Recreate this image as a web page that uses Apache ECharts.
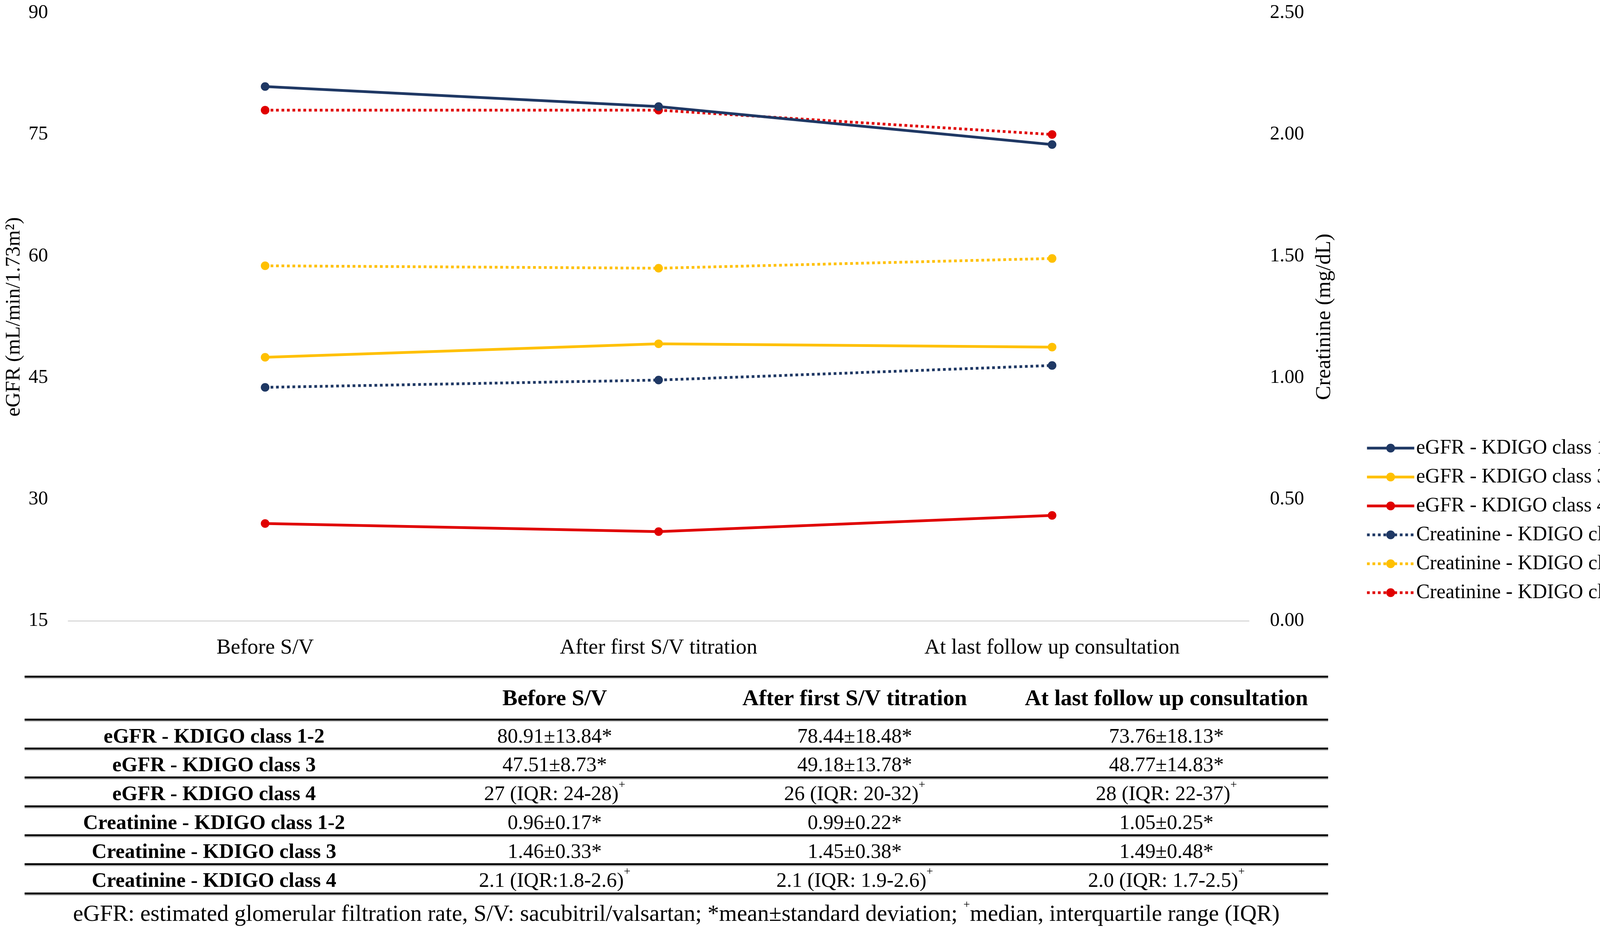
<!DOCTYPE html>
<html>
<head>
<meta charset="utf-8">
<script src="https://cdn.jsdelivr.net/npm/echarts@6/dist/echarts.min.js"></script>
<style>
html,body{margin:0;padding:0;background:#fff;}
#chart{width:4288px;height:2383px;}
</style>
</head>
<body>
<div id="chart"></div>
<script>
// ---- data ----
const categories = ['Before S/V', 'After first S/V titration', 'At last follow up consultation'];
const egfrClass12 = [80.91, 78.44, 73.76];
const egfrClass3 = [47.51, 49.18, 48.77];
const egfrClass4 = [27, 26, 28];
const creatClass12 = [0.96, 0.99, 1.05];
const creatClass3 = [1.46, 1.45, 1.49];
const creatClass4 = [2.1, 2.1, 2.0];
const seriesNames = ['eGFR - KDIGO class 1-2', 'eGFR - KDIGO class 3', 'eGFR - KDIGO class 4',
  'Creatinine - KDIGO class 1-2', 'Creatinine - KDIGO class 3', 'Creatinine - KDIGO class 4'];
const leftTicks = {min: 15, max: 90, interval: 15};
const rightTicks = {min: 0, max: 2.5, interval: 0.5};
const tableCells = [
  ['80.91±13.84*', '78.44±18.48*', '73.76±18.13*'],
  ['47.51±8.73*', '49.18±13.78*', '48.77±14.83*'],
  ['27 (IQR: 24-28)', '26 (IQR: 20-32)', '28 (IQR: 22-37)'],
  ['0.96±0.17*', '0.99±0.22*', '1.05±0.25*'],
  ['1.46±0.33*', '1.45±0.38*', '1.49±0.48*'],
  ['2.1 (IQR:1.8-2.6)', '2.1 (IQR: 1.9-2.6)', '2.0 (IQR: 1.7-2.5)']
];
const medianRows = [2, 5];
const footnote = ['eGFR: estimated glomerular filtration rate, S/V: sacubitril/valsartan; *mean±standard deviation; ', 'median, interquartile range (IQR)'];

// ---- styles ----
const FONT = '"Liberation Serif", "Times New Roman", serif';
const NAVY = '#1f3864', YELLOW = '#ffc000', RED = '#e00000';
const colors = [NAVY, YELLOW, RED, NAVY, YELLOW, RED];
const seriesData = [egfrClass12, egfrClass3, egfrClass4, creatClass12, creatClass3, creatClass4];

const chart = echarts.init(document.getElementById('chart'), null, {renderer: 'canvas'});

const series = seriesData.map((d, i) => ({
  name: seriesNames[i],
  type: 'line',
  data: d,
  yAxisIndex: i < 3 ? 0 : 1,
  symbol: 'circle',
  symbolSize: 22,
  lineStyle: {color: colors[i], width: 7, type: i < 3 ? 'solid' : [7, 7], cap: 'butt'},
  itemStyle: {color: colors[i]},
  z: i < 3 ? 3 : 2,
  animation: false
}));

// ---- table graphics ----
const tableLeft = 63, tableRight = 3400;
const lineYs = [1732, 1842, 1916, 1990, 2064, 2138, 2212, 2287];
const headerY = 1790;
const rowYs = [1887, 1960, 2034, 2108, 2182, 2256];
const colXs = [548, 1420, 2188, 2986];
const graphics = [];
lineYs.forEach(y => {
  graphics.push({type: 'line', shape: {x1: tableLeft, y1: y + 4, x2: tableRight, y2: y + 4},
    style: {stroke: '#c8c8c8', lineWidth: 3}, silent: true});
  graphics.push({type: 'line', shape: {x1: tableLeft, y1: y, x2: tableRight, y2: y},
    style: {stroke: '#000', lineWidth: 5}, silent: true});
});
categories.forEach((c, j) => {
  graphics.push({type: 'text', x: colXs[j + 1], y: headerY,
    style: {text: c, fontSize: 58, fontFamily: FONT, fontWeight: 'bold', fill: '#000', align: 'center', verticalAlign: 'middle'}});
});
const richSup = {s: {fontSize: 30, lineHeight: 30, verticalAlign: 'top', fontFamily: FONT, fill: '#000'}};
seriesNames.forEach((n, r) => {
  graphics.push({type: 'text', x: colXs[0], y: rowYs[r],
    style: {text: n, fontSize: 53, fontFamily: FONT, fontWeight: 'bold', fill: '#000', align: 'center', verticalAlign: 'middle'}});
  tableCells[r].forEach((cell, j) => {
    const isMed = medianRows.indexOf(r) >= 0;
    graphics.push({type: 'text', x: colXs[j + 1], y: rowYs[r],
      style: {text: isMed ? cell + '{s|+}' : cell, rich: richSup, fontSize: 53, lineHeight: 80, fontFamily: FONT, fill: '#000',
        align: 'center', verticalAlign: 'middle'}});
  });
});
graphics.push({type: 'text', x: (tableLeft + tableRight) / 2, y: 2341,
  style: {text: footnote[0] + '{s|+}' + footnote[1], rich: richSup, fontSize: 59, lineHeight: 80, fontFamily: FONT, fill: '#000',
    align: 'center', verticalAlign: 'middle'}});

chart.setOption({
  animation: false,
  backgroundColor: '#fff',
  textStyle: {fontFamily: FONT},
  grid: {left: 175, right: 1091, top: 33, height: 1556, containLabel: false},
  legend: {
    orient: 'vertical', left: 3491, top: 1116,
    itemWidth: 121, itemHeight: 28, itemGap: 22,
    lineStyle: {width: 7},
    textStyle: {fontSize: 52, lineHeight: 50, fontFamily: FONT, color: '#000'},
    data: seriesNames
  },
  xAxis: {
    type: 'category', data: categories, boundaryGap: true,
    axisLine: {lineStyle: {color: '#d9d9d9', width: 3}},
    axisTick: {show: false},
    axisLabel: {fontSize: 55, fontFamily: FONT, color: '#000', margin: 42}
  },
  yAxis: [{
    type: 'value', min: leftTicks.min, max: leftTicks.max, interval: leftTicks.interval,
    name: 'eGFR (mL/min/1.73m²)', nameLocation: 'middle', nameGap: 110, nameRotate: 90,
    nameTextStyle: {fontSize: 53, fontFamily: FONT, color: '#000'},
    axisLine: {show: false}, axisTick: {show: false}, splitLine: {show: false},
    axisLabel: {fontSize: 50, fontFamily: FONT, color: '#000', margin: 52}
  }, {
    type: 'value', min: rightTicks.min, max: rightTicks.max, interval: rightTicks.interval,
    name: 'Creatinine (mg/dL)', nameLocation: 'middle', nameGap: 166, nameRotate: 90,
    nameTextStyle: {fontSize: 55, fontFamily: FONT, color: '#000'},
    axisLine: {show: false}, axisTick: {show: false}, splitLine: {show: false},
    axisLabel: {fontSize: 50, fontFamily: FONT, color: '#000', margin: 54, formatter: v => v.toFixed(2)}
  }],
  series: series,
  graphic: graphics
});
</script>
</body>
</html>
